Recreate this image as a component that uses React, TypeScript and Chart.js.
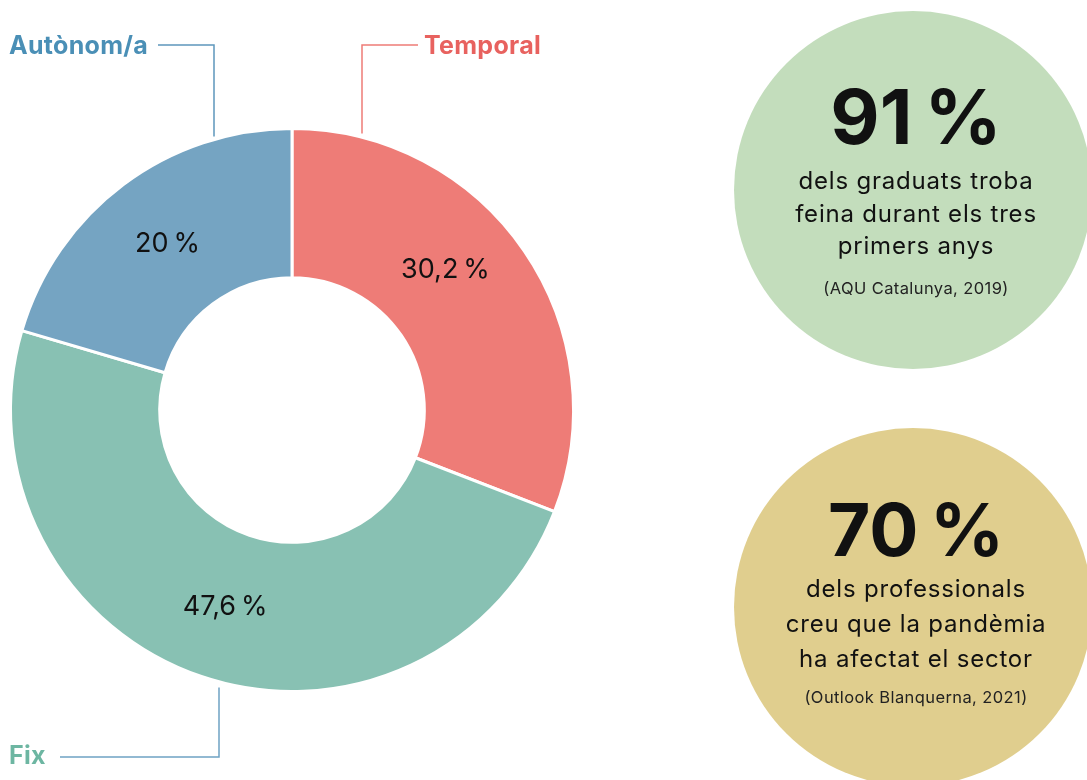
import React, { useEffect, useRef } from "react";
import { Chart, registerables } from "chart.js";

Chart.register(...registerables);

const categories = ["Temporal", "Fix", "Autònom/a"];
const values = [30.2, 47.6, 20];
const valueLabels = ["30,2 %", "47,6 %", "20 %"];
const sliceColors = ["#EE7C77", "#88C1B3", "#75A4C2"];
const nameColors = ["#E8625F", "#6DB6A2", "#4A8FB6"];

const statValues = ["91 %", "70 %"];
const statLines = [
  ["dels graduats troba", "feina durant els tres", "primers anys"],
  ["dels professionals", "creu que la pandèmia", "ha afectat el sector"],
];
const statSources = ["(AQU Catalunya, 2019)", "(Outlook Blanquerna, 2021)"];
const statColors = ["#C3DDBC", "#E0CE8E"];

const FONT = "Inter, Roboto, 'Noto Sans', sans-serif";
const thin = (s: string) => s.replace(" %", "\u2009%");

const overlayPlugin = {
  id: "overlay",
  beforeDraw(chart: any) {
    const ctx = chart.ctx;
    ctx.save();
    const centers = [
      { x: 913, y: 190 },
      { x: 913, y: 607 },
    ];
    centers.forEach((c, i) => {
      ctx.beginPath();
      ctx.arc(c.x, c.y, 179, 0, Math.PI * 2);
      ctx.fillStyle = statColors[i];
      ctx.fill();
    });
    ctx.fillStyle = "#111";
    ctx.textAlign = "center";
    ctx.textBaseline = "alphabetic";
    const bigY = [144, 556];
    const bigSize = [76, 73];
    const lineY = [189, 597];
    const lineH = [32.5, 35];
    const srcY = [294, 703];
    centers.forEach((c, i) => {
      ctx.letterSpacing = "0px";
      ctx.font = `bold ${bigSize[i]}px ${FONT}`;
      ctx.fillText(thin(statValues[i]), c.x + 3, bigY[i]);
      ctx.letterSpacing = "0.8px";
      ctx.font = `24px ${FONT}`;
      statLines[i].forEach((t, j) => {
        ctx.fillText(t, c.x + 3, lineY[i] + j * lineH[i]);
      });
      ctx.letterSpacing = "0.4px";
      ctx.font = `16.5px ${FONT}`;
      ctx.fillStyle = "#222";
      ctx.fillText(statSources[i], c.x + 3, srcY[i]);
      ctx.fillStyle = "#111";
    });
    ctx.restore();
  },
  afterDatasetsDraw(chart: any) {
    const ctx = chart.ctx;
    const meta = chart.getDatasetMeta(0);
    ctx.save();
    ctx.font = `27px ${FONT}`;
    ctx.fillStyle = "#111";
    ctx.textAlign = "center";
    ctx.textBaseline = "middle";
    const nudge = [-0.14, 0, 0];
    meta.data.forEach((arc: any, i: number) => {
      const p = arc.getProps(["x", "y", "startAngle", "endAngle", "innerRadius", "outerRadius"], true);
      const mid = (p.startAngle + p.endAngle) / 2 + nudge[i];
      const r = (p.innerRadius + p.outerRadius) / 2 + 1;
      ctx.fillText(thin(valueLabels[i]), p.x + Math.cos(mid) * r, p.y + Math.sin(mid) * r);
    });

    const a0 = meta.data[0];
    const cx = a0.x;
    const cy = a0.y;
    const R = a0.outerRadius;
    ctx.lineWidth = 1.5;

    ctx.strokeStyle = "#EE7C77";
    ctx.beginPath();
    ctx.moveTo(cx + 70, cy - R + 5);
    ctx.lineTo(cx + 70, 45);
    ctx.lineTo(cx + 126, 45);
    ctx.stroke();
    ctx.strokeStyle = "#5E97BC";
    ctx.beginPath();
    ctx.moveTo(cx - 78, cy - R + 8);
    ctx.lineTo(cx - 78, 45);
    ctx.lineTo(cx - 134, 45);
    ctx.stroke();
    ctx.strokeStyle = "#6FA3C4";
    ctx.beginPath();
    ctx.moveTo(cx - 73, cy + R - 4);
    ctx.lineTo(cx - 73, 757);
    ctx.lineTo(60, 757);
    ctx.stroke();

    ctx.font = `bold 25px ${FONT}`;
    ctx.letterSpacing = "0.3px";
    ctx.textBaseline = "alphabetic";
    ctx.textAlign = "left";
    ctx.fillStyle = nameColors[0];
    ctx.fillText(categories[0], 424, 54);
    ctx.fillStyle = nameColors[2];
    ctx.fillText(categories[2], 9, 54);
    ctx.fillStyle = nameColors[1];
    ctx.fillText(categories[1], 9, 764);
    ctx.restore();
  },
};

export default function App() {
  const ref = useRef<HTMLCanvasElement | null>(null);
  useEffect(() => {
    if (!ref.current) return;
    const chart = new Chart(ref.current, {
      type: "doughnut",
      data: {
        labels: categories,
        datasets: [
          {
            data: values,
            backgroundColor: sliceColors,
            borderColor: "#ffffff",
            borderWidth: 3,
          },
        ],
      },
      options: {
        responsive: false,
        animation: false,
        cutout: "47%",
        layout: { padding: { left: 9, right: 512, top: 127, bottom: 87 } },
        plugins: { legend: { display: false }, tooltip: { enabled: false } },
      },
      plugins: [overlayPlugin],
    });
    return () => chart.destroy();
  }, []);
  return (
    <div style={{ position: "fixed", left: 0, top: 0, width: 1087, height: 780, background: "#fff" }}>
      <canvas ref={ref} width={1087} height={780} />
    </div>
  );
}
